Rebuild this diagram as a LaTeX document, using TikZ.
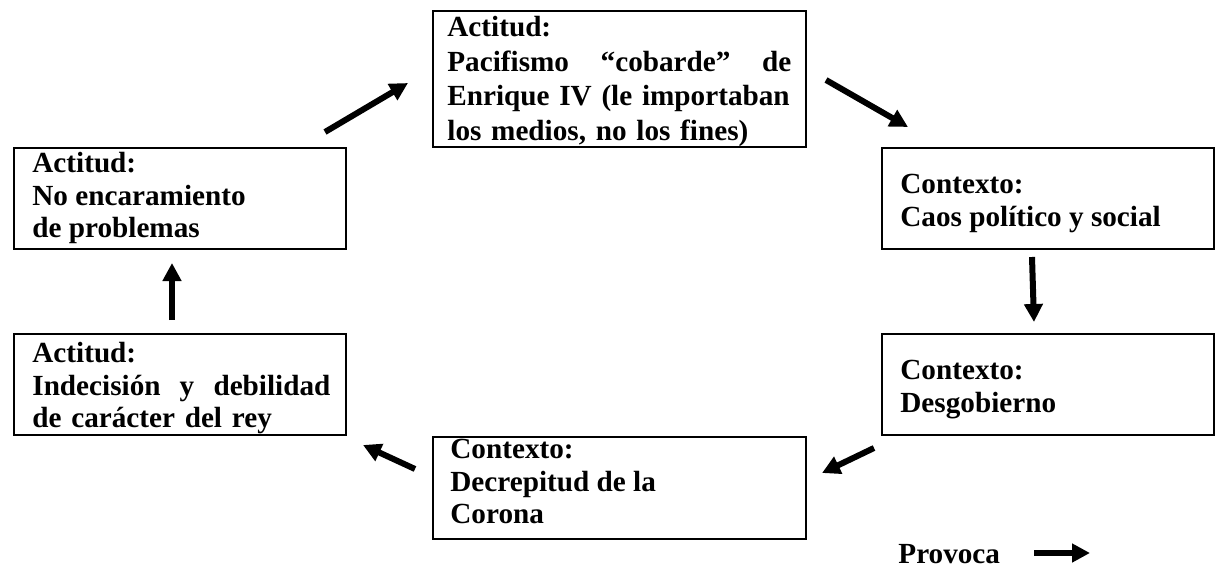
\documentclass[tikz,border=0pt]{standalone}
\usepackage{fontspec}
\setmainfont{Liberation Serif}
\usetikzlibrary{arrows.meta}
\hyphenpenalty=10000
\begin{document}
\begin{tikzpicture}[x=0.5pt,y=-0.5pt,
  box/.style={draw=black,line width=0.75pt,inner sep=0pt,anchor=north west},
  txt/.style={inner sep=0pt,anchor=north west,align=left,
    font=\fontsize{14.6}{16.3}\selectfont\bfseries},
  provoca/.style={line width=3pt,-{Triangle[length=9pt,width=9pt]}}]
\useasboundingbox (0,0) rectangle (1232,573);
% boxes
\node[box,minimum width=186.5pt,minimum height=68pt] (top) at (432,10) {};
\node[box,minimum width=166pt,minimum height=50.5pt] (lt) at (13,147) {};
\node[box,minimum width=166pt,minimum height=50.5pt] (rt) at (881,147) {};
\node[box,minimum width=166pt,minimum height=50.5pt] (lb) at (13,333) {};
\node[box,minimum width=166pt,minimum height=50.5pt] (rb) at (881,333) {};
\node[box,minimum width=186.5pt,minimum height=51pt] (bc) at (432,436) {};
% texts
\node[txt,text width=172pt,font=\fontsize{14.6}{17.3}\selectfont\bfseries] (toptxt) at (447,16)
  {Actitud:\\Pacifismo\hfill “cobarde”\hfill de\\Enrique IV (le \mbox{importaban}\\los medios, no los fines)};
\node[txt] (lttxt) at (32,152) {Actitud:\\No encaramiento\\de problemas};
\node[txt] (rttxt) at (900,174) {Contexto:\\Caos político y social};
\node[txt,text width=149pt] (lbtxt) at (32,342) {Actitud:\\Indecisión\hfill y\hfill debilidad\\de carácter del rey};
\node[txt] (rbtxt) at (900,360) {Contexto:\\Desgobierno};
\node[txt] (bctxt) at (450,439) {Contexto:\\Decrepitud de la\\Corona};
\node[txt,anchor=base west] (legtxt) at (898,563) {Provoca};
% arrow ends
\coordinate (a1) at (325,132); \coordinate (a2) at (408,83);
\coordinate (b1) at (826,80);  \coordinate (b2) at (908,127);
\coordinate (c1) at (1032,257); \coordinate (c2) at (1034,322);
\coordinate (d1) at (874,448); \coordinate (d2) at (822,473);
\coordinate (e1) at (415,469); \coordinate (e2) at (363,445);
\coordinate (f1) at (172,320); \coordinate (f2) at (172,263);
\coordinate (g1) at (1034,553); \coordinate (g2) at (1090,553);
\draw[provoca] (a1) -- (a2);
\draw[provoca] (b1) -- (b2);
\draw[provoca] (c1) -- (c2);
\draw[provoca] (d1) -- (d2);
\draw[provoca] (e1) -- (e2);
\draw[provoca] (f1) -- (f2);
\draw[provoca] (g1) -- (g2);
\end{tikzpicture}
\end{document}
